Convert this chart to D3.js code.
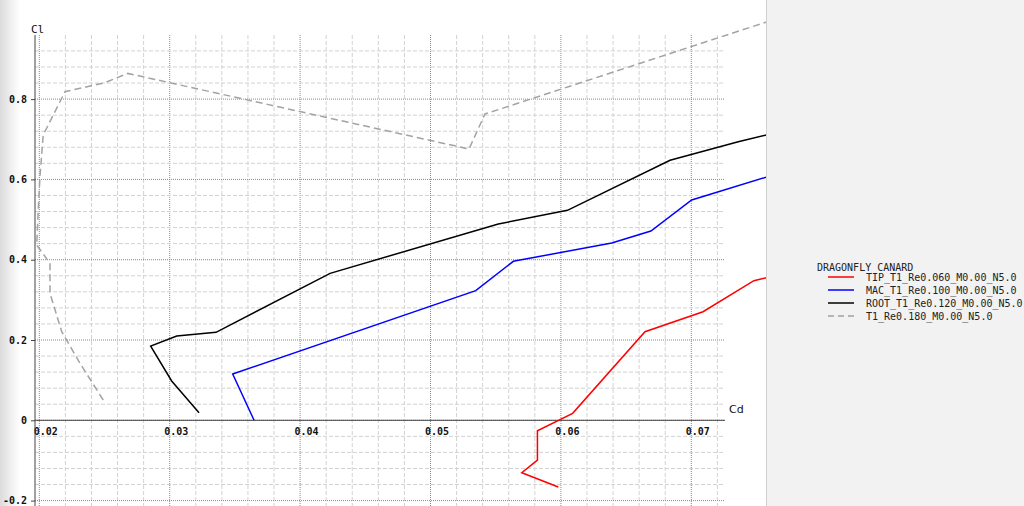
<!DOCTYPE html>
<html>
<head>
<meta charset="utf-8">
<script src="https://cdn.jsdelivr.net/npm/d3@7"></script>
<style>
  body { margin: 0; background: #fff; }
  svg { display: block; }
  .grid-minor { stroke: #d2d2d2; stroke-dasharray: 4,2; }
  .grid-major { stroke: #8a8a8a; stroke-dasharray: 1,1; }
  .tick-label { font-family: "DejaVu Sans Mono", monospace; font-size: 10px; font-weight: bold; fill: #111; }
  .legend text { font-family: "DejaVu Sans Mono", monospace; font-size: 10px; fill: #222; }
</style>
</head>
<body>
<div id="chart"></div>
<script>
// polars (Cd, Cl)
const tipCd  = [0.0598, 0.0570, 0.0582, 0.0582, 0.0609, 0.06645, 0.0709, 0.0748, 0.0776];
const tipCl  = [-0.166, -0.1305, -0.099, -0.026, 0.0174, 0.2207, 0.2705, 0.3477, 0.369];

const macCd  = [0.03647, 0.03483, 0.05347, 0.05635, 0.0639, 0.0669, 0.07003, 0.0783];
const macCl  = [0, 0.1153, 0.3228, 0.396, 0.4416, 0.4714, 0.5489, 0.631];

const rootCd = [0.03225, 0.03015, 0.02854, 0.03054, 0.03355, 0.0423, 0.0552, 0.0605, 0.06837, 0.0736, 0.0783];
const rootCl = [0.019, 0.0979, 0.185, 0.21, 0.219, 0.366, 0.489, 0.523, 0.6476, 0.694, 0.73];

const t1Cd   = [0.0249, 0.02312, 0.02172, 0.02082, 0.02082, 0.0198, 0.01992, 0.02005, 0.0203, 0.02197, 0.02504, 0.02678, 0.05295, 0.05418, 0.0783];
const t1Cl   = [0.0506, 0.142, 0.2207, 0.3163, 0.391, 0.4366, 0.524, 0.606, 0.7106, 0.8184, 0.841, 0.864, 0.6757, 0.763, 1.019];

const seriesNames = ["TIP_T1_Re0.060_M0.00_N5.0", "MAC_T1_Re0.100_M0.00_N5.0", "ROOT_T1_Re0.120_M0.00_N5.0", "T1_Re0.180_M0.00_N5.0"];
const legendTitle = "DRAGONFLY CANARD";

const xTicks = [0.02, 0.03, 0.04, 0.05, 0.06, 0.07];
const xTickLabels = ["0.02", "0.03", "0.04", "0.05", "0.06", "0.07"];
const yTicks = [-0.2, 0, 0.2, 0.4, 0.6, 0.8];
const yTickLabels = ["-0.2", "0", "0.2", "0.4", "0.6", "0.8"];

// styles
const seriesColors = ["#ff0000", "#0000ff", "#000000", "#a3a3a3"];
const seriesDash = [null, null, null, "7,4"];

const width = 1024, height = 506;
const plot = { left: 35, right: 725, top: 35, bottom: 506 };
const panelX = 766;

let x = d3.scaleLinear().domain([0.02, 0.07]).range([39.3, 691.3]);
let y = d3.scaleLinear().domain([-0.2, 0.8]).range([500.6, 99.1]);

let svg = d3.select("#chart").append("svg")
  .attr("width", width)
  .attr("height", height);

let defs = svg.append("defs");
let grad = defs.append("linearGradient").attr("id", "shade");
grad.append("stop").attr("offset", "0%").attr("stop-color", "#dcdcdc");
grad.append("stop").attr("offset", "100%").attr("stop-color", "#ffffff");

svg.append("rect")
  .attr("x", 0).attr("y", 0)
  .attr("width", 20).attr("height", height)
  .attr("fill", "url(#shade)");

// grid
let gridG = svg.append("g");
let xs = d3.range(0, 27).map(i => 0.02 + i * 0.002);
let ys = d3.range(0, 30).map(i => -0.24 + i * 0.04);

gridG.selectAll(".vgrid")
  .data(xs)
.enter().append("line")
  .attr("class", (d, i) => i % 5 === 0 ? "grid-major" : "grid-minor")
  .attr("x1", d => x(d)).attr("x2", d => x(d))
  .attr("y1", plot.top).attr("y2", plot.bottom);

gridG.selectAll(".hgrid")
  .data(ys)
.enter().append("line")
  .attr("class", d => Math.round(d * 100) % 20 === 0 ? "grid-major" : "grid-minor")
  .attr("x1", plot.left).attr("x2", plot.right)
  .attr("y1", d => y(d)).attr("y2", d => y(d));

// axes
let yAxis = d3.axisLeft(y)
  .tickValues(yTicks)
  .tickFormat((d, i) => yTickLabels[i])
  .tickSize(4)
  .tickPadding(4);

let yAxisG = svg.append("g")
  .attr("transform", "translate(" + plot.left + ",0)")
  .call(yAxis);
yAxisG.select(".domain").remove();
yAxisG.selectAll("line").attr("stroke", "#444");
yAxisG.selectAll("text").attr("class", "tick-label").attr("font-size", null).attr("font-family", null);

let xAxis = d3.axisBottom(x)
  .tickValues(xTicks)
  .tickFormat((d, i) => xTickLabels[i])
  .tickSize(0)
  .tickPadding(8);

let xAxisG = svg.append("g")
  .attr("transform", "translate(0," + y(0) + ")")
  .call(xAxis);
xAxisG.select(".domain").remove();
xAxisG.selectAll("text")
  .attr("class", "tick-label")
  .attr("font-size", null).attr("font-family", null)
  .attr("dx", 6);

svg.append("line")
  .attr("x1", plot.left).attr("x2", plot.left)
  .attr("y1", plot.top).attr("y2", plot.bottom)
  .attr("stroke", "#444");

svg.append("line")
  .attr("x1", plot.left).attr("x2", plot.right)
  .attr("y1", y(0)).attr("y2", y(0))
  .attr("stroke", "#444");

svg.append("text")
  .attr("x", 31).attr("y", 33)
  .style("font-family", "'DejaVu Sans Mono', monospace")
  .style("font-size", "11px")
  .attr("fill", "#111")
  .text("Cl");

svg.append("text")
  .attr("x", 729).attr("y", 413)
  .style("font-family", "'DejaVu Sans', sans-serif")
  .style("font-size", "11px")
  .attr("fill", "#111")
  .text("Cd");

// curves
let series = [[tipCd, tipCl], [macCd, macCl], [rootCd, rootCl], [t1Cd, t1Cl]];

let line = d3.line()
  .x(d => x(d[0]))
  .y(d => y(d[1]));

svg.append("g").selectAll(".polar")
  .data(series)
.enter().append("path")
  .attr("class", "polar")
  .attr("d", d => line(d[0].map((c, i) => [c, d[1][i]])))
  .attr("fill", "none")
  .attr("stroke", (d, i) => seriesColors[i])
  .attr("stroke-width", 1.5)
  .attr("stroke-dasharray", (d, i) => seriesDash[i]);

// legend panel on the right, covers the curve ends
svg.append("rect")
  .attr("x", panelX).attr("y", 0)
  .attr("width", width - panelX).attr("height", height)
  .attr("fill", "#f2f2f2");
svg.append("line")
  .attr("x1", panelX + 0.5).attr("x2", panelX + 0.5)
  .attr("y1", 0).attr("y2", height)
  .attr("stroke", "#cfcfcf");

let legend = svg.append("g").attr("class", "legend");

legend.append("text")
  .attr("x", 817).attr("y", 270.5)
  .text(legendTitle);

let rows = legend.selectAll(".row")
  .data(seriesNames)
.enter().append("g")
  .attr("transform", (d, i) => "translate(0," + (277 + i * 13) + ")");

rows.append("line")
  .attr("x1", 828).attr("x2", 854)
  .attr("stroke", (d, i) => seriesColors[i])
  .attr("stroke-width", 1.5)
  .attr("stroke-dasharray", (d, i) => i === 3 ? "6,4" : null);

rows.append("text")
  .attr("x", 866).attr("y", 3.5)
  .text(d => d);
</script>
</body>
</html>
